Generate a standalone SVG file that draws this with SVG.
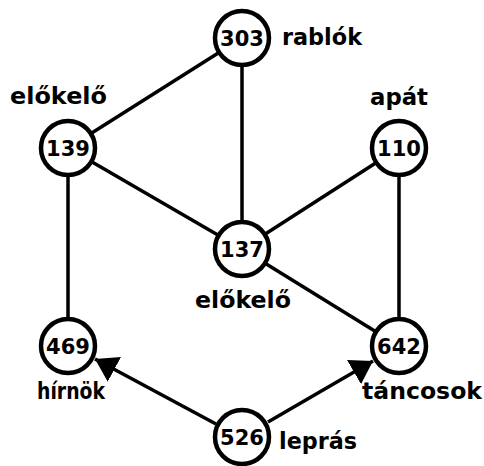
<svg xmlns="http://www.w3.org/2000/svg" width="484" height="466" viewBox="0 0 484 466">
  <defs>
    <marker id="arrow" viewBox="0 0 22 28" refX="22" refY="14" markerWidth="22" markerHeight="28" markerUnits="userSpaceOnUse" orient="auto">
      <path d="M0,0 L22,14 L0,28 Z" fill="#000"/>
    </marker>
    <style>
      .edge { stroke: #000; stroke-width: 3.5; fill: none; }
      .node circle { fill: #fff; stroke: #000; stroke-width: 4.5; }
      .num { font-family: "DejaVu Sans", sans-serif; font-weight: bold; font-size: 21px; text-anchor: middle; fill: #000; }
      .lbl { font-family: "DejaVu Sans", sans-serif; font-weight: bold; font-size: 23px; fill: #000; }
    </style>
  </defs>
  <rect width="484" height="466" fill="#fff"/>

  <g id="connectors">
    <line class="edge" x1="242" y1="38" x2="68" y2="148"/>
    <line class="edge" x1="242" y1="38" x2="242" y2="249"/>
    <line class="edge" x1="68" y1="148" x2="242" y2="249"/>
    <line class="edge" x1="68" y1="148" x2="68" y2="346"/>
    <line class="edge" x1="399" y1="148" x2="242" y2="249"/>
    <line class="edge" x1="399" y1="148" x2="399" y2="346"/>
    <line class="edge" x1="242" y1="249" x2="399" y2="346"/>
    <line class="edge" x1="216" y1="424" x2="95" y2="359" marker-end="url(#arrow)"/>
    <line class="edge" x1="268" y1="422" x2="373" y2="361" marker-end="url(#arrow)"/>
  </g>

  <g id="n303" class="node">
    <circle cx="242" cy="38" r="27"/>
    <text class="num" x="242" y="46">303</text>
    <text class="lbl" x="282" y="45" textLength="80" lengthAdjust="spacingAndGlyphs">rablók</text>
  </g>
  <g id="n139" class="node">
    <circle cx="68" cy="148" r="27"/>
    <text class="num" x="68" y="156">139</text>
    <text class="lbl" x="10" y="104" textLength="97" lengthAdjust="spacingAndGlyphs">előkelő</text>
  </g>
  <g id="n110" class="node">
    <circle cx="399" cy="148" r="27"/>
    <text class="num" x="399" y="156">110</text>
    <text class="lbl" x="370" y="105" textLength="58" lengthAdjust="spacingAndGlyphs">apát</text>
  </g>
  <g id="n137" class="node">
    <circle cx="242" cy="249" r="27"/>
    <text class="num" x="242" y="257">137</text>
    <text class="lbl" x="195" y="308" textLength="96" lengthAdjust="spacingAndGlyphs">előkelő</text>
  </g>
  <g id="n469" class="node">
    <circle cx="68" cy="346" r="27"/>
    <text class="num" x="68" y="354">469</text>
    <text class="lbl" x="37" y="399" textLength="68" lengthAdjust="spacingAndGlyphs">hírnök</text>
  </g>
  <g id="n642" class="node">
    <circle cx="399" cy="346" r="27"/>
    <text class="num" x="399" y="354">642</text>
    <text class="lbl" x="362" y="399" textLength="120" lengthAdjust="spacingAndGlyphs">táncosok</text>
  </g>
  <g id="n526" class="node">
    <circle cx="242" cy="437" r="27"/>
    <text class="num" x="242" y="445">526</text>
    <text class="lbl" x="279" y="449" textLength="78" lengthAdjust="spacingAndGlyphs">leprás</text>
  </g>
</svg>
